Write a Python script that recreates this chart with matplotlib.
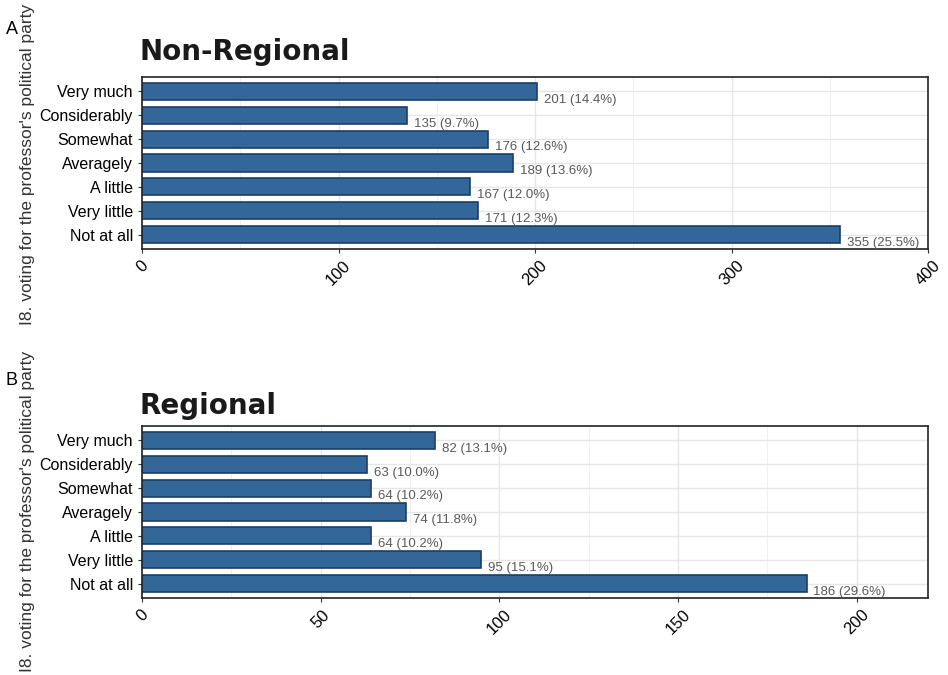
import matplotlib
matplotlib.use("Agg")
import matplotlib.pyplot as plt
from matplotlib.ticker import MultipleLocator

categories = ["Not at all", "Very little", "A little", "Averagely",
              "Somewhat", "Considerably", "Very much"]
non_regional = [355, 171, 167, 189, 176, 135, 201]
regional = [186, 95, 64, 74, 64, 63, 82]

ylabel = "I8. voting for the professor's political party"
BAR_FILL = "#336699"
BAR_EDGE = "#1c3f66"
GRID = "#e6e6e6"

plt.rcParams["font.family"] = ["Liberation Sans", "DejaVu Sans"]

fig = plt.figure(figsize=(9.48, 6.75), dpi=100)


def panel(rect, counts, title, xmax, major, minor, tag, tag_y, title_y, ylab_y):
    ax = fig.add_axes(rect)
    total = sum(counts)
    ypos = list(range(1, len(categories) + 1))
    ax.set_xlim(0, xmax)
    ax.set_ylim(0.4, len(categories) + 0.6)
    ax.xaxis.set_major_locator(MultipleLocator(major))
    ax.xaxis.set_minor_locator(MultipleLocator(minor))
    ax.set_axisbelow(True)
    ax.grid(True, which="major", color=GRID, lw=1.0)
    ax.grid(True, which="minor", axis="x", color="#f0f0f0", lw=0.8)
    ax.barh(ypos, counts, height=0.72, color=BAR_FILL, edgecolor=BAR_EDGE, lw=1.2)
    for y, c in zip(ypos, counts):
        ax.annotate(f"{c} ({c / total * 100:.1f}%)", xy=(c, y), xytext=(5, -6),
                    textcoords="offset points", ha="left", va="center",
                    fontsize=9.5, color="#595959")
    ax.set_yticks(ypos)
    ax.set_yticklabels(categories, fontsize=11.5, color="black")
    ax.tick_params(axis="x", which="minor", length=0)
    ax.tick_params(axis="x", which="major", labelsize=12, labelcolor="black",
                   length=3, color="#333333")
    ax.tick_params(axis="y", length=3, color="#333333")
    for lbl in ax.get_xticklabels():
        lbl.set_rotation(45)
        lbl.set_ha("center")
        lbl.set_va("top")
    for s in ax.spines.values():
        s.set_color("#222222")
        s.set_linewidth(1.2)
    fig.text(rect[0] - 0.003, title_y, title, fontsize=20, fontweight="bold",
             family="DejaVu Sans", color="#1a1a1a", ha="left", va="center")
    fig.text(0.006, tag_y, tag, fontsize=13, ha="left", va="center")
    fig.text(0.0285, ylab_y, ylabel, fontsize=12.5, rotation=90, ha="center",
             va="center", color="#333333")
    return ax


panel([0.1498, 0.6311, 0.8291, 0.2548], non_regional, "Non-Regional",
      400, 100, 50, "A", 0.956, 0.923, 0.757)
panel([0.1498, 0.1141, 0.8291, 0.2548], regional, "Regional",
      220, 50, 25, "B", 0.437, 0.398, 0.242)

fig.savefig("out.png", dpi=100)
